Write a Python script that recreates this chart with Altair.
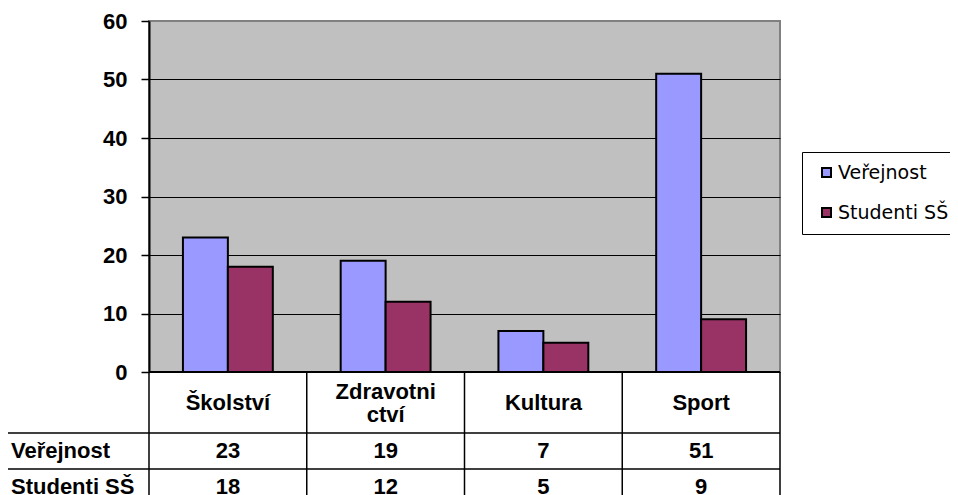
import altair as alt
import pandas as pd

categories = ["Školství", "Zdravotnictví", "Kultura", "Sport"]
header_labels = ["Školství", "Zdravotni\nctví", "Kultura", "Sport"]
series = ["Veřejnost", "Studenti SŠ"]
verejnost = [23, 19, 7, 51]
studenti = [18, 12, 5, 9]
y_ticks = [0, 10, 20, 30, 40, 50, 60]
colors = ["#9999FF", "#993366"]

rows = []
for s, vals in zip(series, [verejnost, studenti]):
    for c, v in zip(categories, vals):
        rows.append({"category": c, "series": s, "value": v})
df = pd.DataFrame(rows)
header_df = pd.DataFrame({"category": categories, "label": header_labels})

W, H = 631, 351
FONT = "Liberation Sans"
BOLD_SIZE = 22
LINE_H = 23
ROW_Y = [430, 466]          # table row centres (below the plot)
HEADER_Y = 382
TABLE_LINES_Y = [412, 448]
TABLE_BOTTOM = 490


def xcat(**kw):
    return alt.X("category:N", sort=categories,
                 scale=alt.Scale(paddingInner=0, paddingOuter=0), axis=None, **kw)


bars = alt.Chart(df).mark_bar(stroke="black", strokeWidth=2).encode(
    x=xcat(),
    xOffset=alt.XOffset("series:N", sort=series,
                        scale=alt.Scale(paddingInner=0, paddingOuter=0.755)),
    y=alt.Y("value:Q", scale=alt.Scale(domain=[0, 60], nice=False),
            axis=alt.Axis(values=y_ticks, title=None, labelFont=FONT,
                          labelFontSize=BOLD_SIZE, labelFontWeight="bold",
                          labelColor="black", labelPadding=14, tickSize=8,
                          tickColor="black", tickWidth=1.5, domainColor="black",
                          domainWidth=2,
                          gridColor={"condition": {"test": "datum.value === 60", "value": "#808080"},
                                     "value": "black"},
                          gridWidth=1)),
    color=alt.Color("series:N", sort=series,
                    scale=alt.Scale(domain=series, range=colors),
                    legend=alt.Legend(title=None, orient="none", legendX=653, legendY=131,
                                      direction="vertical",
                                      strokeColor="black", fillColor="white", padding=11,
                                      symbolType="square", symbolSize=81,
                                      symbolStrokeColor="black", symbolStrokeWidth=2,
                                      symbolOffset=4, labelOffset=2,
                                      labelFont="DejaVu Sans", labelFontSize=19,
                                      labelColor="black", rowPadding=20,
                                      labelLimit=400)),
)

# x axis line (bottom of plot area)
x_line = alt.Chart(header_df.head(1)).mark_rule(color="black", strokeWidth=2).encode(
    x=alt.value(0), x2=alt.value(W), y=alt.value(H))

# table: vertical lines at category boundaries
vlines = alt.Chart(header_df).mark_rule(color="black", strokeWidth=1.5).encode(
    x=xcat(bandPosition=0), y=alt.value(H), y2=alt.value(TABLE_BOTTOM))
vline_end = alt.Chart(header_df.head(1)).mark_rule(color="black", strokeWidth=1.5).encode(
    x=alt.value(W), y=alt.value(H), y2=alt.value(TABLE_BOTTOM))

hlines = [
    alt.Chart(header_df.head(1)).mark_rule(color="black", strokeWidth=1.5).encode(
        x=alt.value(-149), x2=alt.value(W), y=alt.value(yy))
    for yy in TABLE_LINES_Y
]

text_style = dict(font=FONT, fontSize=BOLD_SIZE, fontWeight="bold", color="black",
                  baseline="middle")

header_single = alt.Chart(header_df).transform_filter(
    "indexof(datum.label, '\\n') < 0"
).mark_text(align="center", **text_style).encode(
    x=xcat(), y=alt.value(HEADER_Y), text="label:N")

header_multi = alt.Chart(header_df).transform_filter(
    "indexof(datum.label, '\\n') >= 0"
).mark_text(align="center", lineBreak="\n", lineHeight=LINE_H, **text_style).encode(
    x=xcat(), y=alt.value(HEADER_Y - LINE_H / 2), text="label:N")

value_rows = []
for s, ry in zip(series, ROW_Y):
    value_rows.append(
        alt.Chart(df).transform_filter(alt.datum.series == s).mark_text(
            align="center", **text_style
        ).encode(x=xcat(), y=alt.value(ry), text="value:Q"))
    value_rows.append(
        alt.Chart(pd.DataFrame({"series": [s]})).mark_text(
            align="left", **text_style
        ).encode(x=alt.value(-138), y=alt.value(ry), text="series:N"))

chart = alt.layer(bars, x_line, vlines, vline_end, *hlines,
                  header_single, header_multi, *value_rows).properties(
    width=W, height=H,
    autosize=alt.AutoSizeParams(type="none"),
    padding={"left": 141, "top": 13, "right": 170, "bottom": 133},
    background="white",
).configure_view(fill="#C0C0C0", stroke="#808080", strokeWidth=2)

chart.save("out.html", embed_options={"renderer": "svg", "actions": False})
